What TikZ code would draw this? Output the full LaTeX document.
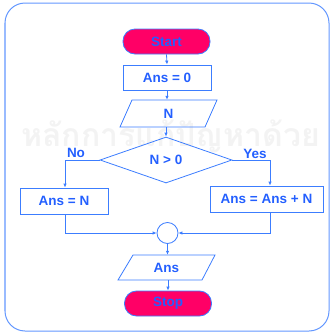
\documentclass[tikz,border=0pt]{standalone}
\usepackage{fontspec}
\setmainfont{Liberation Sans}
\newfontfamily\thaifont[Script=Thai]{Loma}
\usetikzlibrary{shapes.geometric,arrows.meta}
\definecolor{lineblue}{RGB}{60,125,255}
\definecolor{txtblue}{RGB}{35,95,255}
\definecolor{startred}{RGB}{255,0,102}
\definecolor{wmark}{RGB}{243,243,243}
\tikzset{
  every node/.style={font=\bfseries\fontsize{13.5}{15}\selectfont, text=txtblue},
  flow/.style={draw=lineblue, line width=0.8pt, -{Latex[length=4pt,width=3.5pt]}},
  plain/.style={draw=lineblue, line width=0.8pt},
  procbox/.style={draw=lineblue, line width=0.8pt, rectangle, inner sep=0pt},
  term/.style={draw=lineblue, line width=0.8pt, fill=startred, rectangle, rounded corners=12pt,
    minimum width=87pt, minimum height=25pt, inner sep=0pt},
  iobox/.style={rectangle, inner sep=0pt, minimum width=70pt},
}
\begin{document}
\begin{tikzpicture}[x=1pt,y=-1pt]
\useasboundingbox (0,0) rectangle (330,333);
% outer frame
\draw[draw=lineblue!80, line width=1pt, rounded corners=20pt] (5,3) rectangle (329,331);
% watermark
\begin{scope}
\clip (0,0) rectangle (330,333);
\node[anchor=base west, inner sep=0pt, text depth=0pt, text=wmark, font=\thaifont\bfseries\fontsize{32}{34}\selectfont] (wm) at (21,146) {หลักการแก้ปัญหาด้วย};
\end{scope}
% nodes
\node[term] (start) at (166.5,41.5) {Start};
\node[procbox, minimum width=88pt, minimum height=25pt] (a0) at (167,77.5) {Ans = 0};
\draw[plain] (132,100) -- (217,100) -- (205,127) -- (120,127) -- cycle;
\node[iobox, minimum height=27pt] (n) at (168.5,113.5) {N};
\node[draw=lineblue, line width=0.8pt, diamond, inner sep=0pt, minimum width=132pt, minimum height=46pt] (d) at (166,160) {N > 0};
\node[procbox, minimum width=88pt, minimum height=26pt] (an) at (64,201) {Ans = N};
\node[procbox, minimum width=113pt, minimum height=26pt] (aan) at (266.5,199) {Ans = Ans + N};
\node[draw=lineblue, line width=0.8pt, circle, minimum size=21pt, inner sep=0pt] (c) at (167.5,233) {};
\draw[plain] (133,255) -- (215,255) -- (202,280) -- (118,280) -- cycle;
\node[iobox, minimum height=25pt] (out) at (166.5,267.5) {Ans};
\node[term] (stop) at (168,303.5) {Stop};
% labels
\node (no) at (76,153) {No};
\node (yes) at (255,154) {Yes};
% connectors
\coordinate (l1) at (65,160);
\coordinate (r1) at (270,160);
\coordinate (l2) at (65,233);
\coordinate (r2) at (270,233);
\draw[flow] (start.south) -- (a0.north);
\draw[flow] (a0.south) -- (n.north -| a0.south);
\draw[flow] (n.south -| d.north) -- (d.north);
\draw[flow] (d.west) -- (l1) -- (l1 |- an.north);
\draw[flow] (d.east) -- (r1) -- (r1 |- aan.north);
\draw[flow] (l1 |- an.south) -- (l2) -- (c.west);
\draw[flow] (r1 |- aan.south) -- (r2) -- (c.east);
\draw[flow] (c.south) -- (c.south |- out.north);
\draw[flow] (out.south -| stop.north) -- (stop.north);
\end{tikzpicture}
\end{document}
